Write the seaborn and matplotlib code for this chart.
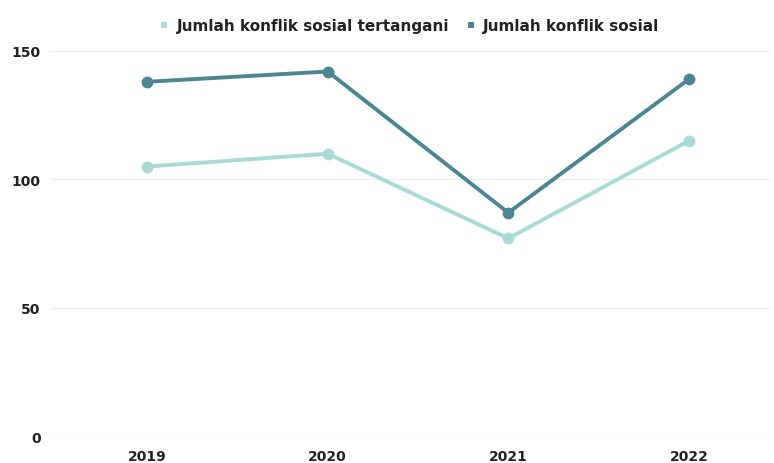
import matplotlib
matplotlib.use("Agg")
import matplotlib.pyplot as plt
from matplotlib.lines import Line2D
import seaborn as sns
import pandas as pd

years = ["2019", "2020", "2021", "2022"]
tertangani = [105, 110, 77, 115]
total = [138, 142, 87, 139]
series_names = ["Jumlah konflik sosial tertangani", "Jumlah konflik sosial"]
colors = ["#a9dad3", "#4d8590"]

df = pd.DataFrame({
    "Tahun": years * 2,
    "Nilai": tertangani + total,
    "Seri": [series_names[0]] * 4 + [series_names[1]] * 4,
})

sns.set_theme(style="white")
plt.rcParams["font.family"] = ["DejaVu Sans"]

fig = plt.figure(figsize=(7.74, 4.64), dpi=100)
ax = fig.add_axes([0.065, 0.058, 0.93, 0.83])

sns.lineplot(data=df, x="Tahun", y="Nilai", hue="Seri", palette=colors,
             marker="o", markersize=8.5, markeredgewidth=0, linewidth=2.8,
             ax=ax, legend=False, sort=False)

ax.set_ylim(0, 150)
ax.set_xlim(-0.536, 3.45)
ax.set_yticks([0, 50, 100, 150])
ax.grid(axis="y", color="#eeeeee", linewidth=1)
ax.grid(axis="x", visible=False)
for s in ax.spines.values():
    s.set_visible(False)
ax.set_xlabel("")
ax.set_ylabel("")
ax.tick_params(axis="both", length=0, labelsize=10, colors="#222222")
ax.tick_params(axis="y", pad=7)
ax.tick_params(axis="x", pad=9)
for lbl in ax.get_xticklabels() + ax.get_yticklabels():
    lbl.set_fontweight("bold")

handles = [Line2D([], [], linestyle="none", marker="s", markersize=5,
                  markerfacecolor=c, markeredgewidth=0) for c in colors]
leg = fig.legend(handles, series_names, loc="center", bbox_to_anchor=(0.529, 0.942),
                 ncol=2, frameon=False, handlelength=0.6, handletextpad=0.5,
                 columnspacing=1.1, prop={"weight": "bold", "size": 11})
for t in leg.get_texts():
    t.set_color("#222222")

fig.savefig("out.png", dpi=100)
